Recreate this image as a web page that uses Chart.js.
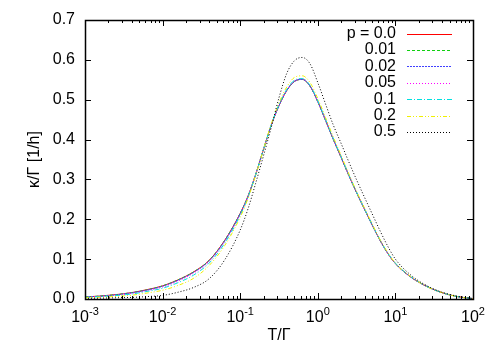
<!DOCTYPE html>
<html>
<head>
<meta charset="utf-8">
<script src="https://cdn.jsdelivr.net/npm/chart.js@4.4.0/dist/chart.umd.min.js"></script>
<style>
html,body{margin:0;padding:0;background:#fff;}
#wrap{width:500px;height:350px;}
</style>
</head>
<body>
<div id="wrap"><canvas id="c" width="500" height="350"></canvas></div>
<script>
// T/Γ sample points
const tValues = [0.001, 0.00158, 0.00251, 0.00398, 0.00631, 0.01, 0.0158, 0.0251, 0.0398, 0.0631,
  0.1, 0.126, 0.158, 0.2, 0.251, 0.316, 0.398, 0.501, 0.631, 0.794,
  1, 1.26, 1.58, 2, 2.51, 3.16, 3.98, 5.01, 6.31, 7.94,
  10, 15.8, 25.1, 39.8, 63.1, 100];

const seriesLabels = ["p = 0.0", "0.01", "0.02", "0.05", "0.1", "0.2", "0.5"];

const p00 = [0.005, 0.0075, 0.011, 0.016, 0.0235, 0.033, 0.048, 0.068, 0.097, 0.147,
  0.215, 0.258, 0.312, 0.376, 0.436, 0.485, 0.523, 0.546, 0.551, 0.534,
  0.495, 0.448, 0.401, 0.355, 0.310, 0.267, 0.226, 0.186, 0.148, 0.115,
  0.089, 0.055, 0.032, 0.016, 0.006, 0.001];
const p001 = [0.005, 0.0075, 0.011, 0.016, 0.023, 0.033, 0.048, 0.068, 0.097, 0.147,
  0.215, 0.258, 0.312, 0.376, 0.436, 0.485, 0.523, 0.546, 0.551, 0.534,
  0.495, 0.448, 0.401, 0.355, 0.310, 0.267, 0.226, 0.186, 0.148, 0.115,
  0.089, 0.055, 0.032, 0.016, 0.006, 0.001];
const p002 = [0.005, 0.007, 0.0105, 0.0155, 0.0225, 0.032, 0.047, 0.067, 0.096, 0.146,
  0.214, 0.257, 0.312, 0.376, 0.436, 0.485, 0.523, 0.546, 0.551, 0.534,
  0.495, 0.448, 0.401, 0.355, 0.310, 0.267, 0.226, 0.186, 0.148, 0.115,
  0.089, 0.055, 0.032, 0.016, 0.006, 0.001];
const p005 = [0.0045, 0.0065, 0.0095, 0.014, 0.021, 0.030, 0.045, 0.065, 0.094, 0.144,
  0.213, 0.257, 0.312, 0.376, 0.436, 0.486, 0.524, 0.547, 0.552, 0.535,
  0.496, 0.449, 0.402, 0.356, 0.311, 0.268, 0.227, 0.187, 0.148, 0.115,
  0.089, 0.055, 0.032, 0.016, 0.006, 0.001];
const p01 = [0.004, 0.006, 0.0085, 0.0125, 0.019, 0.027, 0.041, 0.060, 0.090, 0.140,
  0.210, 0.255, 0.311, 0.376, 0.437, 0.488, 0.526, 0.549, 0.553, 0.536,
  0.497, 0.450, 0.403, 0.357, 0.312, 0.268, 0.227, 0.187, 0.149, 0.116,
  0.090, 0.056, 0.032, 0.016, 0.006, 0.001];
const p02 = [0.003, 0.0045, 0.0065, 0.0095, 0.015, 0.022, 0.034, 0.052, 0.084, 0.134,
  0.205, 0.252, 0.310, 0.376, 0.439, 0.492, 0.532, 0.556, 0.560, 0.543,
  0.503, 0.455, 0.407, 0.360, 0.314, 0.270, 0.229, 0.189, 0.150, 0.117,
  0.090, 0.056, 0.032, 0.016, 0.006, 0.001];
const p05 = [0.0015, 0.002, 0.003, 0.004, 0.006, 0.009, 0.017, 0.029, 0.051, 0.098,
  0.173, 0.226, 0.290, 0.360, 0.430, 0.505, 0.566, 0.598, 0.606, 0.590,
  0.543, 0.489, 0.437, 0.390, 0.344, 0.299, 0.256, 0.214, 0.172, 0.133,
  0.100, 0.060, 0.034, 0.017, 0.007, 0.001];

const xTickValues = [0.001, 0.01, 0.1, 1, 10, 100];
const xTickExponents = ["-3", "-2", "-1", "0", "1", "2"];
const yTickValues = [0, 0.1, 0.2, 0.3, 0.4, 0.5, 0.6, 0.7];

const allSeries = [p00, p001, p002, p005, p01, p02, p05];
const colors = ["#ff0000", "#10d010", "#4040ff", "#ff00ff", "#00e0e0", "#f0f000", "#000000"];
const dashes = [[], [3, 2], [2, 1], [1, 2], [5, 2, 1, 2], [4, 2, 1, 2, 1, 2], [1, 2]];

const FONT = "'Liberation Sans', Arial, sans-serif";

const datasets = allSeries.map((vals, i) => ({
  label: seriesLabels[i],
  data: tValues.map((t, j) => ({x: t, y: vals[j]})),
  borderColor: colors[i],
  backgroundColor: colors[i],
  borderWidth: 1,
  borderDash: dashes[i],
  pointRadius: 0,
  fill: false,
  order: allSeries.length - i,
  cubicInterpolationMode: 'monotone'
}));

const framePlugin = {
  id: 'frame',
  afterDatasetsDraw(chart) {
    const {ctx, chartArea: a, scales} = chart;
    const xs = scales.x, ys = scales.y;
    ctx.save();
    ctx.strokeStyle = '#000';
    ctx.lineWidth = 1;
    ctx.setLineDash([]);
    ctx.beginPath();
    xTickValues.forEach((d, k) => {
      for (let m = 1; m <= 9; m++) {
        if (m > 1 && k === xTickValues.length - 1) continue;
        const v = d * m;
        const px = Math.round(xs.getPixelForValue(v)) + 0.5;
        const len = m === 1 ? 6 : 3;
        ctx.moveTo(px, a.bottom); ctx.lineTo(px, a.bottom - len);
        ctx.moveTo(px, a.top); ctx.lineTo(px, a.top + len);
      }
    });
    yTickValues.forEach(v => {
      const py = Math.round(ys.getPixelForValue(v)) + 0.5;
      ctx.moveTo(a.left, py); ctx.lineTo(a.left + 6, py);
      ctx.moveTo(a.right, py); ctx.lineTo(a.right - 6, py);
    });
    ctx.stroke();
    ctx.lineWidth = 1.5;
    ctx.strokeRect(Math.round(a.left) + 0.5, Math.round(a.top) + 0.5, Math.round(a.right - a.left), Math.round(a.bottom - a.top));

    // x tick labels: base 10 with raised exponent
    ctx.fillStyle = '#000';
    ctx.textBaseline = 'alphabetic';
    ctx.textAlign = 'left';
    xTickValues.forEach((v, i) => {
      const px = xs.getPixelForValue(v);
      ctx.font = "16px " + FONT;
      const wb = ctx.measureText("10").width;
      ctx.font = "11px " + FONT;
      const we = ctx.measureText(xTickExponents[i]).width;
      const x0 = px - (wb + we) / 2;
      ctx.font = "16px " + FONT;
      ctx.fillText("10", x0, a.bottom + 23);
      ctx.font = "11px " + FONT;
      ctx.fillText(xTickExponents[i], x0 + wb, a.bottom + 16);
    });

    // legend
    ctx.font = "16px " + FONT;
    ctx.textAlign = 'right';
    ctx.textBaseline = 'middle';
    chart.data.datasets.forEach((ds, i) => {
      const y = a.top + 13.5 + i * 16.4;
      ctx.fillStyle = '#000';
      ctx.fillText(ds.label, a.right - 77, y);
      ctx.strokeStyle = ds.borderColor;
      ctx.lineWidth = 1;
      ctx.setLineDash(ds.borderDash);
      ctx.beginPath();
      ctx.moveTo(a.right - 66, Math.round(y) + 0.5);
      ctx.lineTo(a.right - 21, Math.round(y) + 0.5);
      ctx.stroke();
    });
    ctx.restore();
  }
};

new Chart(document.getElementById('c'), {
  type: 'line',
  data: {datasets},
  options: {
    responsive: false,
    animation: false,
    layout: {padding: {top: 20, right: 27, left: 0, bottom: 0}},
    plugins: {legend: {display: false}, tooltip: {enabled: false}},
    scales: {
      x: {
        type: 'logarithmic',
        min: 0.001, max: 100,
        afterBuildTicks(scale) { scale.ticks = xTickValues.map(v => ({value: v})); },
        afterFit(scale) { scale.height = 51; },
        grid: {display: false, drawTicks: false},
        border: {display: false},
        ticks: {display: false},
        title: {display: true, text: 'T/Γ', color: '#000', font: {family: FONT, size: 16}, padding: {top: 0, bottom: 5}}
      },
      y: {
        min: 0, max: 0.7,
        afterBuildTicks(scale) { scale.ticks = yTickValues.map(v => ({value: v})); },
        afterFit(scale) { scale.width = 85; },
        grid: {display: false, drawTicks: false},
        border: {display: false},
        ticks: {
          color: '#000', padding: 10,
          font: {family: FONT, size: 16},
          callback(v) { return Number(v).toFixed(1); }
        },
        title: {display: true, text: 'κ/Γ [1/h]', color: '#000', font: {family: FONT, size: 16}, padding: {top: 25, bottom: 0}}
      }
    }
  },
  plugins: [framePlugin]
});
</script>
</body>
</html>
